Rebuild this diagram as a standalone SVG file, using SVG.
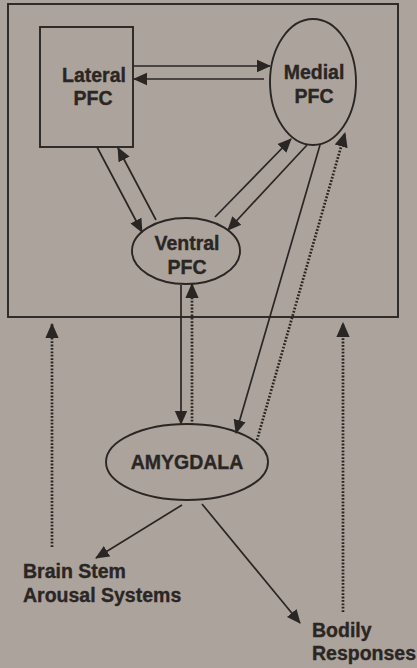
<svg xmlns="http://www.w3.org/2000/svg" width="417" height="668" viewBox="0 0 417 668">
  <style>
    .bg { fill: #aca39c; }
    .box { fill: none; stroke: #2a2624; stroke-width: 1.9; }
    .node { fill: none; stroke: #2a2624; stroke-width: 1.9; }
    .lbl { font-family: "Liberation Sans", Arial, sans-serif; font-weight: bold; font-size: 19.5px; fill: #2a2624; stroke: #2a2624; stroke-width: 0.35; }
    .solid { stroke: #2a2624; stroke-width: 1.7; fill: none; marker-end: url(#head); }
    .dotted { stroke: #2a2624; stroke-width: 2.7; stroke-dasharray: 1.8 1.6; fill: none; marker-end: url(#headD); }
  </style>
  <defs>
    <marker id="head" viewBox="0 0 14 14" refX="13" refY="7" markerWidth="14" markerHeight="14" markerUnits="userSpaceOnUse" orient="auto">
      <path d="M0,0.8 L14,7 L0,13.2 Z" fill="#2a2624"/>
    </marker>
    <marker id="headD" viewBox="0 0 14 14" refX="13" refY="7" markerWidth="15" markerHeight="15" markerUnits="userSpaceOnUse" orient="auto">
      <path d="M0,0.8 L14,7 L0,13.2 Z" fill="#2a2624"/>
    </marker>
  </defs>

  <rect class="bg" x="0" y="0" width="417" height="668"/>

  <!-- prefrontal frame -->
  <rect class="box" x="8" y="4" width="390" height="313"/>

  <g id="lateral-pfc">
    <rect class="node" x="40" y="27" width="93" height="120"/>
    <text class="lbl" x="94" y="82" text-anchor="middle">Lateral</text>
    <text class="lbl" x="93" y="105" text-anchor="middle">PFC</text>
  </g>

  <g id="medial-pfc">
    <ellipse class="node" cx="313" cy="82" rx="43" ry="63"/>
    <text class="lbl" x="314" y="79" text-anchor="middle">Medial</text>
    <text class="lbl" x="314" y="103" text-anchor="middle">PFC</text>
  </g>

  <g id="ventral-pfc">
    <ellipse class="node" cx="186" cy="251" rx="54" ry="33"/>
    <text class="lbl" x="187" y="250" text-anchor="middle">Ventral</text>
    <text class="lbl" x="187" y="274" text-anchor="middle">PFC</text>
  </g>

  <g id="amygdala">
    <ellipse class="node" cx="187" cy="462" rx="81" ry="38"/>
    <text class="lbl" x="187" y="469" text-anchor="middle">AMYGDALA</text>
  </g>

  <g id="brain-stem">
    <text class="lbl" x="23" y="578">Brain Stem</text>
    <text class="lbl" x="23" y="602">Arousal Systems</text>
  </g>

  <g id="bodily-responses">
    <text class="lbl" x="312" y="637">Bodily</text>
    <text class="lbl" x="312" y="660">Responses</text>
  </g>

  <g id="connectors">
    <!-- lateral <-> medial -->
    <line class="solid" x1="133" y1="66" x2="270" y2="66"/>
    <line class="solid" x1="264" y1="79" x2="134" y2="79"/>
    <!-- lateral <-> ventral -->
    <line class="solid" x1="97" y1="147" x2="142" y2="232"/>
    <line class="solid" x1="156" y1="220" x2="118" y2="148"/>
    <!-- medial <-> ventral -->
    <line class="solid" x1="215" y1="217" x2="291" y2="139"/>
    <line class="solid" x1="307" y1="145" x2="228" y2="230"/>
    <!-- medial -> amygdala, amygdala -> medial -->
    <line class="solid" x1="320" y1="145" x2="236" y2="433"/>
    <line class="dotted" x1="257" y1="440" x2="345" y2="133"/>
    <!-- ventral <-> amygdala -->
    <line class="solid" x1="181" y1="285" x2="181" y2="424"/>
    <line class="dotted" x1="192" y1="425" x2="192" y2="284"/>
    <!-- feedback to the frame -->
    <line class="dotted" x1="52" y1="547" x2="52" y2="324"/>
    <line class="dotted" x1="343" y1="612" x2="343" y2="323"/>
    <!-- amygdala outputs -->
    <line class="solid" x1="182" y1="505" x2="96" y2="558"/>
    <line class="solid" x1="202" y1="504" x2="300" y2="623"/>
  </g>
</svg>
